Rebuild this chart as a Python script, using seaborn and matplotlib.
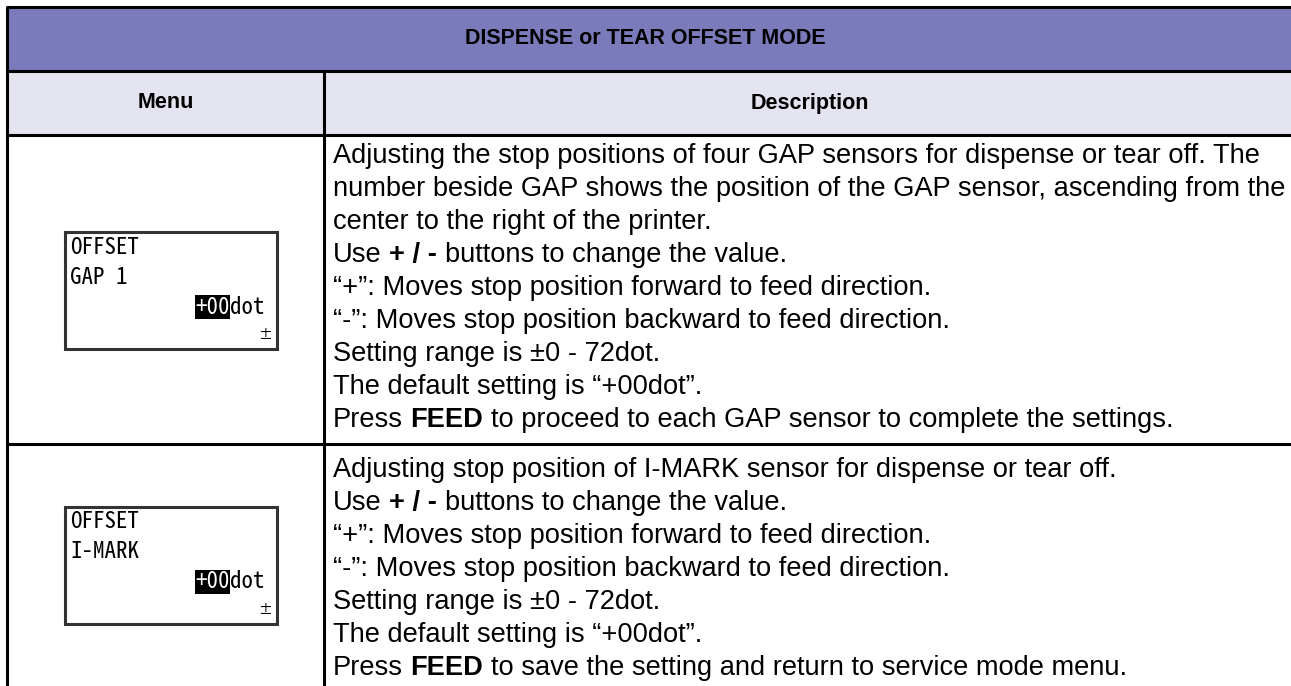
import matplotlib
matplotlib.use('Agg')
import matplotlib.pyplot as plt
import seaborn as sns
from matplotlib.patches import Rectangle

# ---- table content ----
title = 'DISPENSE or TEAR OFFSET MODE'
col_headers = ['Menu', 'Description']

lcd_lines = [['OFFSET', 'GAP 1'],
             ['OFFSET', 'I-MARK']]
lcd_value = '+00'
lcd_unit = 'dot'
lcd_sign = '±'

# text between * * is bold
desc_gap = [
    'Adjusting the stop positions of four GAP sensors for dispense or tear off. The',
    'number beside GAP shows the position of the GAP sensor, ascending from the',
    'center to the right of the printer.',
    'Use *+ / -* buttons to change the value.',
    '“+”: Moves stop position forward to feed direction.',
    '“-”: Moves stop position backward to feed direction.',
    'Setting range is ±0 - 72dot.',
    'The default setting is “+00dot”.',
    'Press *FEED* to proceed to each GAP sensor to complete the settings.',
]
desc_imark = [
    'Adjusting stop position of I-MARK sensor for dispense or tear off.',
    'Use *+ / -* buttons to change the value.',
    '“+”: Moves stop position forward to feed direction.',
    '“-”: Moves stop position backward to feed direction.',
    'Setting range is ±0 - 72dot.',
    'The default setting is “+00dot”.',
    'Press *FEED* to save the setting and return to service mode menu.',
]
descriptions = [desc_gap, desc_imark]

# ---- layout (pixels) ----
W, H = 1291, 686
x_left, x_div, x_right = 7, 324, 1300
y_top, y_head, y_sub = 7, 71, 135
row_edges = [135, 444, 700]
header_color = '#7b7bbb'
sub_color = '#e4e4f0'
body_font = 'Liberation Sans'
body_size = 19.6
head_size = 15.5
line_step = 33
lcd_font = ['Noto Sans Mono CJK JP', 'DejaVu Sans Mono']
lcd_size = 16.5

sns.set_theme(style='white')
plt.rcParams['font.family'] = [body_font, 'DejaVu Sans']
plt.rcParams['text.color'] = 'black'

fig = plt.figure(figsize=(W / 100, H / 100), dpi=100)
ax = fig.add_axes([0, 0, 1, 1])
ax.set_xlim(0, W)
ax.set_ylim(H, 0)
ax.axis('off')
renderer = fig.canvas.get_renderer()

# header fills
ax.add_patch(Rectangle((x_left, y_top), x_right - x_left, y_head - y_top,
                       facecolor=header_color, edgecolor='none'))
ax.add_patch(Rectangle((x_left, y_head), x_right - x_left, y_sub - y_head,
                       facecolor=sub_color, edgecolor='none'))

# grid lines
lw = 2.2
for y in [y_top, y_head, y_sub, row_edges[1]]:
    ax.plot([x_left, x_right], [y, y], color='black', lw=lw, solid_capstyle='butt')
ax.plot([x_left, x_left], [y_top, H + 5], color='black', lw=lw)
ax.plot([x_div, x_div], [y_head, H + 5], color='black', lw=lw)

ax.text(645, (y_top + y_head) / 2, title, ha='center', va='center',
        fontsize=head_size, fontweight='bold')
ax.text((x_left + x_div) / 2, (y_head + y_sub) / 2, col_headers[0], ha='center',
        va='center', fontsize=head_size, fontweight='bold')
ax.text(810, (y_head + y_sub) / 2, col_headers[1], ha='center',
        va='center', fontsize=head_size, fontweight='bold')


def rich_line(x, y, line):
    parts = line.split('*')
    gap = 0.0
    space = 0.278 * body_size * 100 / 72
    for i, part in enumerate(parts):
        if not part:
            continue
        if part[0] == ' ':
            gap = space
        x += gap
        gap = 0.0
        t = ax.text(x, y, part.strip(), ha='left', va='bottom', fontsize=body_size,
                    fontweight='bold' if i % 2 else 'normal')
        x = t.get_window_extent(renderer=renderer).x1
        if part[-1] == ' ':
            gap = space


box_w, box_h = 212, 117
box_tops = [232, 507]
text_offsets = [34, 39]
for r, (lines, desc) in enumerate(zip(lcd_lines, descriptions)):
    top = row_edges[r]
    bx, by = 65, box_tops[r]
    ax.add_patch(Rectangle((bx, by), box_w, box_h, facecolor='white',
                           edgecolor='#333333', lw=2.2))
    ax.text(bx + 5, by + 15, lines[0], ha='left', va='center', family=lcd_font,
            fontsize=lcd_size)
    ax.text(bx + 5, by + 45, lines[1], ha='left', va='center', family=lcd_font,
            fontsize=lcd_size)
    unit = ax.text(bx + box_w - 13, by + 75, lcd_unit, ha='right', va='center',
                   family=lcd_font, fontsize=lcd_size)
    ax.annotate(lcd_value, xy=(0, 0.5), xycoords=unit, ha='right', va='center',
                family=lcd_font, fontsize=lcd_size, color='white',
                bbox=dict(boxstyle='square,pad=0.02', facecolor='black',
                          edgecolor='none'))
    ax.text(bx + box_w - 12, by + 103, lcd_sign, ha='center', va='center',
            family=lcd_font, fontsize=10)

    y0 = top + text_offsets[r]
    for k, line in enumerate(desc):
        rich_line(x_div + 9, y0 + k * line_step, line)

fig.savefig('out.png', dpi=100)
